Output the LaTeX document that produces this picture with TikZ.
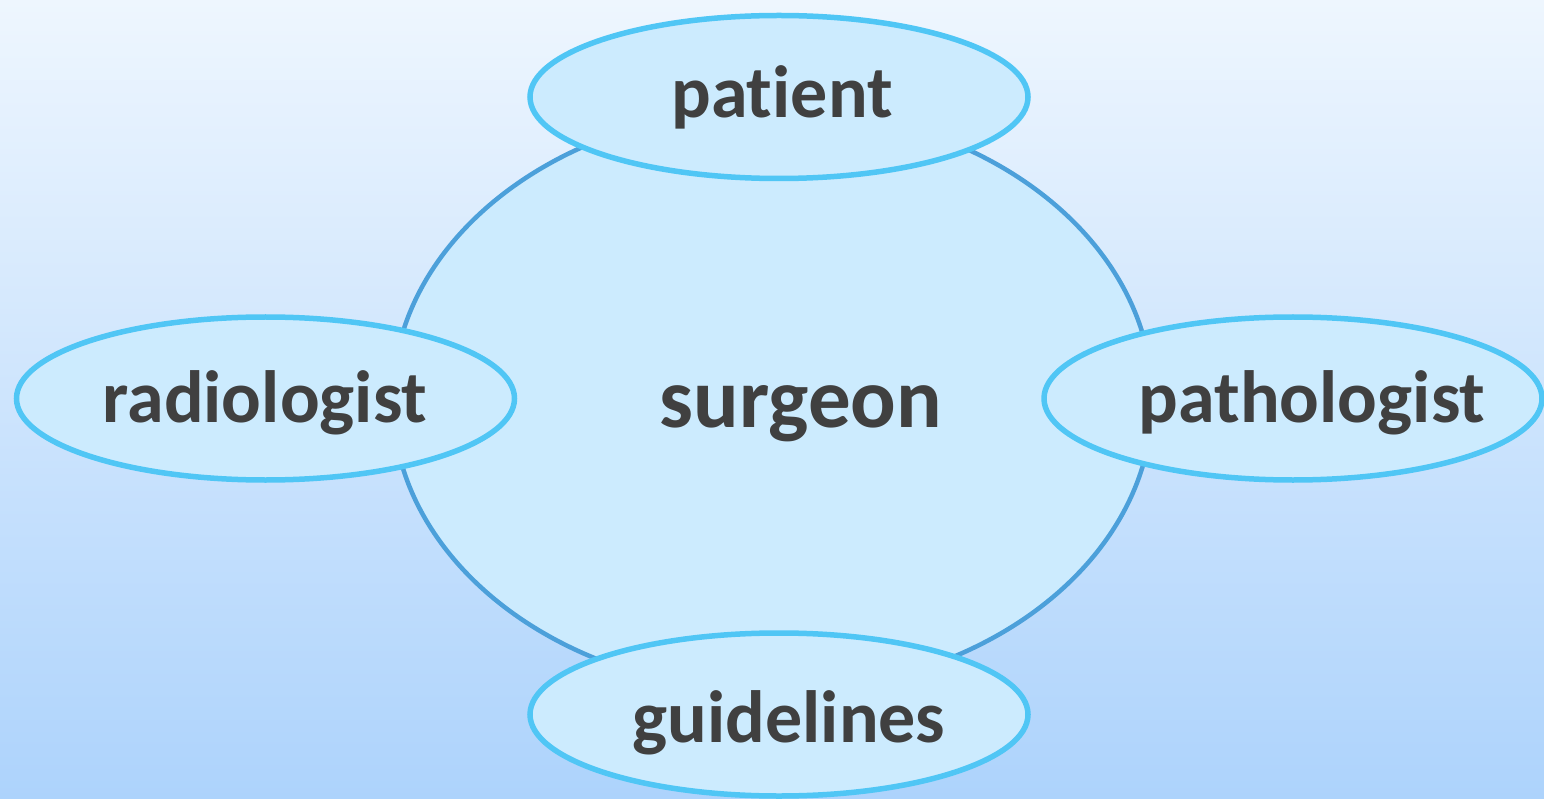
\documentclass[tikz,border=0pt]{standalone}
\usepackage{fontspec}
\setmainfont[Ligatures={NoCommon}]{Carlito}
\usetikzlibrary{shapes.geometric}
\definecolor{bgtop}{HTML}{EEF6FE}
\definecolor{bgbot}{HTML}{ADD3FC}
\definecolor{fillblue}{HTML}{CCEBFE}
\definecolor{bigline}{HTML}{4CA0DA}
\definecolor{smallline}{HTML}{50C6F5}
\definecolor{txt}{HTML}{404040}
\tikzset{
  bigell/.style={ellipse, draw=bigline, line width=4.5pt, fill=fillblue, inner sep=0pt,
    minimum width=760pt, minimum height=584pt},
  smallell/.style={ellipse, draw=smallline, line width=5.5pt, fill=fillblue, inner sep=0pt,
    minimum width=498pt, minimum height=163pt},
  lbl/.style={anchor=base, text=txt, inner sep=0pt, font=\bfseries\fontsize{74}{74}\selectfont},
  biglbl/.style={lbl, font=\bfseries\fontsize{85}{85}\selectfont}
}
\begin{document}
\begin{tikzpicture}[x=1pt,y=-1pt]
\useasboundingbox (0,0) rectangle (1544,799);
\shade[top color=bgtop, bottom color=bgbot] (0,0) rectangle (1544,799);
\node[bigell] (surgeonell) at (772.5,400) {};
\node[smallell] (patientell) at (779,97) {};
\node[smallell] (radiologistell) at (265.5,398.5) {};
\node[smallell] (pathologistell) at (1293,398.5) {};
\node[smallell] (guidelinesell) at (779,714.5) {};
\node[biglbl] (surgeon) at (801,427) {surgeon};
\node[lbl] (patient) at (782,118) {patient};
\node[lbl] (radiologist) at (265,422) {radiologist};
\node[lbl] (pathologist) at (1312,422) {pathologist};
\node[lbl] (guidelines) at (789,742) {guidelines};
\end{tikzpicture}
\end{document}
